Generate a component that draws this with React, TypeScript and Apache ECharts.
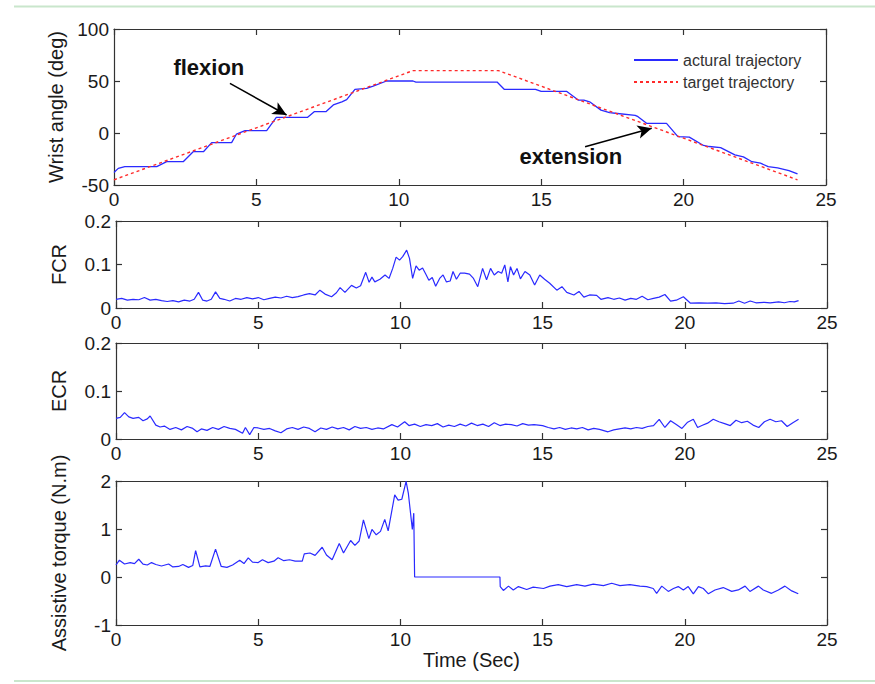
import React, { useEffect, useRef } from "react";
import * as echarts from "echarts";

// ---------- data (time in seconds, value) ----------
const timeAxis = { min: 0, max: 25, interval: 5 };

const actualTrajectory: [number, number][] = [
  [0, -38], [0.15, -34], [0.38, -32.4], [1.5, -32.4], [1.85, -27.6], [2.43, -27.6],
  [2.78, -18], [3.14, -18], [3.43, -9.3], [4.13, -9.3], [4.3, -1], [4.6, 2.2],
  [5.36, 2.2], [5.7, 15.1], [6.8, 15.1], [7.03, 20.5], [7.44, 20.5], [7.7, 27],
  [8.0, 30], [8.17, 32], [8.46, 42], [8.87, 43], [9.1, 45], [9.57, 50], [10.5, 50],
  [10.6, 49], [13.45, 49], [13.7, 42], [14.8, 42], [15.0, 40], [15.9, 40],
  [16.3, 31.7], [16.5, 31.7], [16.7, 30], [17.1, 22], [17.4, 19.5], [17.6, 19],
  [18.3, 17], [18.4, 15.7], [18.7, 9.3], [19.4, 9.3], [19.8, -3.5], [20.2, -4],
  [20.7, -12], [20.9, -13], [21.3, -14], [21.8, -21], [22.1, -23], [22.4, -27.6],
  [22.7, -29], [22.97, -32.4], [23.3, -33.5], [23.7, -36.2], [24.0, -39.4],
];

const targetTrajectory: [number, number][] = [
  [0, -45], [10.5, 60], [13.5, 60], [24, -45],
];

const fcrSignal: [number, number][] = [
  [0.0, 0.02], [0.2, 0.022], [0.4, 0.018], [0.6, 0.02], [0.8, 0.019], [1.0, 0.024],
  [1.2, 0.018], [1.4, 0.02], [1.6, 0.017], [1.8, 0.015], [2.0, 0.017], [2.2, 0.014],
  [2.4, 0.018], [2.6, 0.016], [2.75, 0.02], [2.9, 0.036], [3.05, 0.018], [3.2, 0.016],
  [3.35, 0.02], [3.5, 0.037], [3.65, 0.022], [3.8, 0.02], [4.0, 0.016], [4.2, 0.022],
  [4.4, 0.02], [4.6, 0.024], [4.8, 0.021], [5.0, 0.024], [5.2, 0.019], [5.4, 0.022],
  [5.6, 0.025], [5.8, 0.023], [6.0, 0.027], [6.2, 0.024], [6.4, 0.026], [6.6, 0.03],
  [6.8, 0.033], [7.0, 0.03], [7.17, 0.041], [7.35, 0.032], [7.58, 0.026], [7.75, 0.035],
  [7.88, 0.047], [8.05, 0.036], [8.28, 0.052], [8.45, 0.046], [8.6, 0.051], [8.78, 0.082],
  [8.9, 0.059], [9.0, 0.071], [9.1, 0.06], [9.28, 0.066], [9.46, 0.076], [9.6, 0.068],
  [9.73, 0.091], [9.85, 0.117], [9.97, 0.11], [10.08, 0.118], [10.22, 0.133], [10.32, 0.114],
  [10.43, 0.068], [10.55, 0.097], [10.66, 0.087], [10.78, 0.092], [10.9, 0.077], [11.0, 0.064],
  [11.12, 0.07], [11.24, 0.05], [11.38, 0.068], [11.5, 0.076], [11.62, 0.06], [11.75, 0.062],
  [11.85, 0.084], [11.97, 0.066], [12.1, 0.08], [12.26, 0.08], [12.43, 0.078], [12.57, 0.068],
  [12.72, 0.049], [12.89, 0.091], [13.03, 0.065], [13.17, 0.091], [13.3, 0.076], [13.44, 0.084],
  [13.56, 0.08], [13.67, 0.099], [13.78, 0.06], [13.87, 0.095], [13.98, 0.076], [14.1, 0.091],
  [14.22, 0.067], [14.38, 0.084], [14.55, 0.076], [14.72, 0.053], [14.9, 0.076], [15.07, 0.066],
  [15.25, 0.057], [15.5, 0.041], [15.68, 0.049], [15.85, 0.036], [16.1, 0.03], [16.28, 0.038],
  [16.45, 0.025], [16.65, 0.03], [16.9, 0.029], [17.05, 0.02], [17.3, 0.024], [17.5, 0.02],
  [17.7, 0.023], [17.9, 0.018], [18.1, 0.022], [18.3, 0.02], [18.5, 0.027], [18.7, 0.019],
  [18.9, 0.022], [19.1, 0.025], [19.3, 0.031], [19.5, 0.016], [19.7, 0.018], [19.95, 0.026],
  [20.2, 0.011], [20.5, 0.012], [20.8, 0.011], [21.1, 0.012], [21.4, 0.01], [21.7, 0.011],
  [21.9, 0.016], [22.1, 0.011], [22.3, 0.016], [22.5, 0.012], [22.8, 0.013], [23.0, 0.012],
  [23.3, 0.014], [23.5, 0.012], [23.7, 0.015], [23.85, 0.014], [24.0, 0.017],
];

const ecrSignal: [number, number][] = [
  [0.0, 0.043], [0.15, 0.045], [0.3, 0.055], [0.45, 0.046], [0.6, 0.043], [0.8, 0.045],
  [0.95, 0.038], [1.1, 0.042], [1.2, 0.048], [1.4, 0.029], [1.55, 0.025], [1.7, 0.027],
  [1.9, 0.02], [2.1, 0.024], [2.3, 0.019], [2.5, 0.026], [2.7, 0.022], [2.85, 0.015],
  [3.0, 0.021], [3.2, 0.018], [3.4, 0.024], [3.6, 0.02], [3.8, 0.026], [4.0, 0.022],
  [4.2, 0.02], [4.45, 0.012], [4.55, 0.024], [4.7, 0.009], [4.85, 0.024], [5.0, 0.023],
  [5.2, 0.02], [5.4, 0.022], [5.6, 0.017], [5.8, 0.013], [6.0, 0.021], [6.2, 0.024],
  [6.4, 0.02], [6.6, 0.025], [6.8, 0.022], [7.0, 0.015], [7.2, 0.023], [7.4, 0.02],
  [7.6, 0.025], [7.8, 0.021], [8.0, 0.024], [8.2, 0.019], [8.4, 0.026], [8.6, 0.022],
  [8.8, 0.024], [9.0, 0.02], [9.2, 0.023], [9.4, 0.021], [9.7, 0.03], [9.9, 0.025],
  [10.15, 0.036], [10.3, 0.028], [10.5, 0.031], [10.7, 0.026], [10.9, 0.03], [11.1, 0.028],
  [11.3, 0.032], [11.5, 0.025], [11.7, 0.029], [11.9, 0.026], [12.1, 0.031], [12.3, 0.027],
  [12.5, 0.033], [12.7, 0.028], [12.9, 0.031], [13.1, 0.026], [13.3, 0.034], [13.5, 0.028],
  [13.7, 0.031], [13.9, 0.03], [14.1, 0.027], [14.3, 0.032], [14.5, 0.029], [14.7, 0.03],
  [15.0, 0.028], [15.2, 0.024], [15.4, 0.021], [15.6, 0.024], [15.8, 0.02], [16.0, 0.023],
  [16.2, 0.021], [16.4, 0.024], [16.6, 0.019], [16.8, 0.022], [17.0, 0.02], [17.3, 0.015],
  [17.5, 0.019], [17.7, 0.021], [17.9, 0.023], [18.1, 0.021], [18.3, 0.024], [18.5, 0.022],
  [18.7, 0.026], [18.9, 0.028], [19.1, 0.041], [19.3, 0.024], [19.5, 0.038], [19.7, 0.03],
  [19.9, 0.022], [20.1, 0.035], [20.3, 0.041], [20.45, 0.024], [20.6, 0.028], [20.8, 0.033],
  [21.0, 0.041], [21.2, 0.036], [21.4, 0.032], [21.6, 0.028], [21.8, 0.039], [22.0, 0.034],
  [22.2, 0.037], [22.4, 0.029], [22.6, 0.024], [22.8, 0.036], [23.0, 0.041], [23.2, 0.036],
  [23.4, 0.038], [23.6, 0.026], [23.8, 0.034], [24.0, 0.041],
];

const assistiveTorque: [number, number][] = [
  [0.0, 0.25], [0.12, 0.35], [0.3, 0.27], [0.5, 0.3], [0.65, 0.28], [0.8, 0.37],
  [0.95, 0.27], [1.1, 0.25], [1.25, 0.3], [1.4, 0.26], [1.6, 0.23], [1.85, 0.27],
  [2.0, 0.21], [2.2, 0.22], [2.35, 0.26], [2.55, 0.2], [2.7, 0.24], [2.8, 0.55],
  [2.95, 0.21], [3.15, 0.23], [3.3, 0.22], [3.5, 0.58], [3.7, 0.22], [3.9, 0.2],
  [4.1, 0.25], [4.35, 0.35], [4.5, 0.28], [4.65, 0.4], [4.8, 0.31], [5.0, 0.3],
  [5.15, 0.36], [5.35, 0.3], [5.55, 0.33], [5.7, 0.4], [5.9, 0.34], [6.1, 0.36],
  [6.3, 0.33], [6.55, 0.33], [6.62, 0.48], [6.82, 0.5], [7.0, 0.45], [7.25, 0.62],
  [7.4, 0.46], [7.6, 0.36], [7.85, 0.7], [8.0, 0.5], [8.25, 0.76], [8.4, 0.66],
  [8.55, 0.75], [8.7, 1.19], [8.89, 0.8], [9.0, 0.99], [9.15, 0.88], [9.3, 0.95],
  [9.45, 1.2], [9.57, 0.96], [9.8, 1.71], [9.92, 1.6], [10.05, 1.62], [10.2, 1.99],
  [10.28, 1.74], [10.42, 0.99], [10.47, 1.33], [10.5, 0.0], [13.5, 0.0], [13.51, -0.2],
  [13.62, -0.28], [13.8, -0.19], [13.97, -0.27], [14.15, -0.2], [14.44, -0.26], [14.67, -0.21],
  [15.03, -0.24], [15.26, -0.19], [15.55, -0.16], [15.85, -0.2], [16.2, -0.16], [16.49, -0.19],
  [16.78, -0.15], [17.14, -0.18], [17.43, -0.13], [17.72, -0.18], [18.07, -0.16], [18.42, -0.19],
  [18.66, -0.2], [18.89, -0.24], [19.01, -0.34], [19.19, -0.19], [19.42, -0.3], [19.6, -0.24],
  [19.77, -0.2], [19.95, -0.27], [20.12, -0.2], [20.3, -0.35], [20.48, -0.2], [20.65, -0.24],
  [20.83, -0.35], [21.06, -0.27], [21.35, -0.22], [21.65, -0.3], [21.88, -0.27], [22.12, -0.19],
  [22.29, -0.3], [22.59, -0.19], [22.76, -0.27], [23.05, -0.34], [23.29, -0.27], [23.52, -0.19],
  [23.76, -0.29], [23.99, -0.35],
];

// annotations (data coordinates)
const annotationLabels: { name: string; coord: [number, number] }[] = [
  { name: "flexion", coord: [3.33, 63] },
  { name: "extension", coord: [16.04, -22.6] },
];
const annotationArrows: [[number, number], [number, number]][] = [
  [[4.07, 47.8], [6.06, 17.3]],
  [[16.54, -13.2], [18.88, 4.5]],
];

const panelNames = ["Wrist angle (deg)", "FCR", "ECR", "Assistive torque (N.m)"];
const panelYRanges: { min: number; max: number; interval: number }[] = [
  { min: -50, max: 100, interval: 50 },
  { min: 0, max: 0.2, interval: 0.1 },
  { min: 0, max: 0.2, interval: 0.1 },
  { min: -1, max: 2, interval: 1 },
];
const xAxisName = "Time (Sec)";
const legendNames = ["actural trajectory", "target trajectory"];

// ---------- styles ----------
const FONT = "Liberation Sans, Arial, sans-serif";
const BLUE = "#2a2aff";
const RED = "#ff2a2a";
const FRAME = "#333333";
const TEXT = "#1a1a1a";

const grids = [
  { left: 114, top: 29, width: 712, height: 156 },
  { left: 116, top: 221, width: 711, height: 87 },
  { left: 116, top: 343, width: 711, height: 96 },
  { left: 116, top: 481, width: 711, height: 144 },
];

export default function App() {
  const ref = useRef<HTMLDivElement>(null);

  useEffect(() => {
    document.body.style.margin = "0";
    if (!ref.current) return;
    const chart = echarts.init(ref.current, undefined, { renderer: "svg" });

    const axisLine = { show: true, onZero: false, lineStyle: { color: FRAME, width: 1.2 } };
    const axisTick = { show: true, inside: true, length: 6, lineStyle: { color: FRAME, width: 1.2 } };

    const xAxes: any[] = [];
    const yAxes: any[] = [];
    grids.forEach((_, i) => {
      xAxes.push({
        type: "value",
        gridIndex: i,
        position: "bottom",
        min: timeAxis.min,
        max: timeAxis.max,
        interval: timeAxis.interval,
        axisLine,
        axisTick,
        splitLine: { show: false },
        axisLabel: { show: true, margin: 5, fontSize: 19, color: TEXT, fontFamily: FONT },
        name: i === 3 ? xAxisName : "",
        nameLocation: "middle",
        nameGap: 22,
        nameTextStyle: { fontSize: 20, color: TEXT, fontFamily: FONT },
      });
      yAxes.push({
        type: "value",
        gridIndex: i,
        position: "left",
        min: panelYRanges[i].min,
        max: panelYRanges[i].max,
        interval: panelYRanges[i].interval,
        axisLine,
        axisTick,
        splitLine: { show: false },
        axisLabel: { show: true, margin: 5, fontSize: 19, color: TEXT, fontFamily: FONT },
        name: panelNames[i],
        nameLocation: "middle",
        nameGap: i === 0 ? 45 : 47,
        nameRotate: 90,
        nameTextStyle: { fontSize: 20, color: TEXT, fontFamily: FONT },
      });
    });
    grids.forEach((_, i) => {
      xAxes.push({
        type: "value",
        gridIndex: i,
        position: "top",
        min: timeAxis.min,
        max: timeAxis.max,
        interval: timeAxis.interval,
        axisLine,
        axisTick,
        splitLine: { show: false },
        axisLabel: { show: false },
      });
      yAxes.push({
        type: "value",
        gridIndex: i,
        position: "right",
        min: panelYRanges[i].min,
        max: panelYRanges[i].max,
        interval: panelYRanges[i].interval,
        axisLine,
        axisTick,
        splitLine: { show: false },
        axisLabel: { show: false },
      });
    });

    const lineBase = {
      type: "line",
      symbol: "none",
      showSymbol: false,
      smooth: false,
      silent: true,
    };

    const option: any = {
      animation: false,
      backgroundColor: "#ffffff",
      textStyle: { fontFamily: FONT },
      grid: grids.map((g) => ({ ...g, containLabel: false })),
      xAxis: xAxes,
      yAxis: yAxes,
      legend: {
        data: legendNames,
        orient: "vertical",
        left: 633,
        top: 52,
        padding: 0,
        itemWidth: 44,
        itemHeight: 14,
        itemGap: 6,
        itemStyle: { opacity: 0 },
        textStyle: { fontSize: 16, color: "#333", fontFamily: FONT },
        selectedMode: false,
        backgroundColor: "transparent",
      },
      graphic: [
        { type: "line", shape: { x1: 14, y1: 6.5, x2: 875, y2: 6.5 }, style: { stroke: "#c9e6cc", lineWidth: 2 } },
        { type: "line", shape: { x1: 14, y1: 681, x2: 875, y2: 681 }, style: { stroke: "#c9e6cc", lineWidth: 2 } },
      ],
      series: [
        {
          ...lineBase,
          name: legendNames[0],
          xAxisIndex: 0,
          yAxisIndex: 0,
          data: actualTrajectory,
          lineStyle: { color: BLUE, width: 1.3 },
          itemStyle: { color: BLUE },
        },
        {
          ...lineBase,
          name: legendNames[1],
          xAxisIndex: 0,
          yAxisIndex: 0,
          data: targetTrajectory,
          lineStyle: { color: RED, width: 1.4, type: [3, 3] },
          itemStyle: { color: RED },
          markLine: {
            silent: true,
            symbol: ["none", "arrow"],
            symbolSize: [10, 14],
            label: { show: false },
            lineStyle: { color: "#000", width: 1.5, type: "solid" },
            emphasis: { disabled: true },
            data: annotationArrows.map(([a, b]) => [{ coord: a }, { coord: b }]),
          },
          markPoint: {
            silent: true,
            symbol: "circle",
            symbolSize: 1,
            itemStyle: { color: "rgba(0,0,0,0)" },
            label: {
              show: true,
              position: "inside",
              formatter: (p: any) => p.name,
              fontSize: 22,
              fontWeight: "bold",
              color: "#111",
              fontFamily: FONT,
            },
            data: annotationLabels.map((a) => ({ name: a.name, coord: a.coord })),
          },
        },
        {
          ...lineBase,
          name: "FCR",
          xAxisIndex: 1,
          yAxisIndex: 1,
          data: fcrSignal,
          lineStyle: { color: BLUE, width: 1.2 },
        },
        {
          ...lineBase,
          name: "ECR",
          xAxisIndex: 2,
          yAxisIndex: 2,
          data: ecrSignal,
          lineStyle: { color: BLUE, width: 1.2 },
        },
        {
          ...lineBase,
          name: "Assistive torque",
          xAxisIndex: 3,
          yAxisIndex: 3,
          data: assistiveTorque,
          lineStyle: { color: BLUE, width: 1.2 },
        },
      ],
    };

    chart.setOption(option);
    return () => chart.dispose();
  }, []);

  return <div ref={ref} style={{ width: 875, height: 684 }} />;
}
